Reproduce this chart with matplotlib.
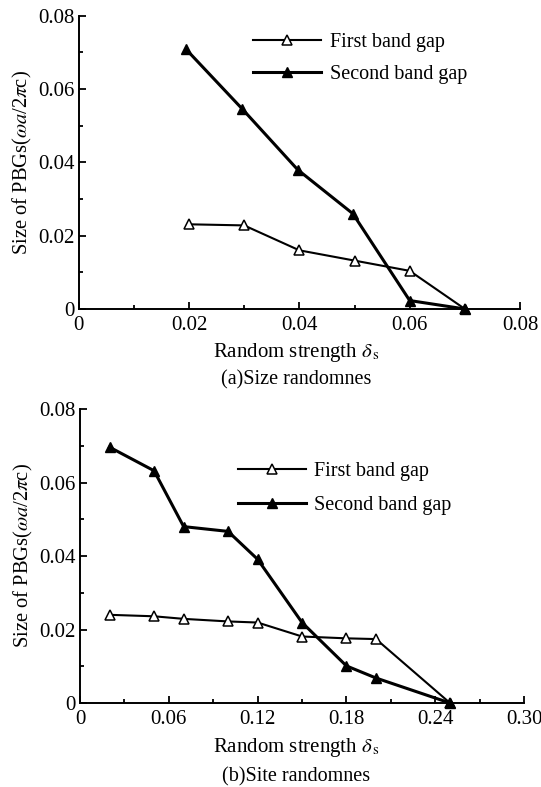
import matplotlib
matplotlib.use("Agg")
import matplotlib.pyplot as plt
from matplotlib.ticker import MultipleLocator

plt.rcParams['font.family'] = ['Liberation Serif', 'DejaVu Serif']
plt.rcParams['mathtext.fontset'] = 'stix'

# (a) size randomness
size_x = [0.02, 0.03, 0.04, 0.05, 0.06, 0.07]
size_first = [0.0231, 0.0228, 0.0160, 0.0132, 0.0104, 0.0]
size_x2 = [0.0195, 0.0297, 0.0397, 0.0497, 0.06, 0.07]
size_second = [0.0708, 0.0545, 0.0380, 0.0260, 0.0023, 0.0]

# (b) site randomness
site_x = [0.02, 0.05, 0.07, 0.10, 0.12, 0.15, 0.18, 0.20, 0.25]
site_first = [0.0240, 0.0236, 0.0229, 0.0222, 0.0219, 0.0181, 0.0176, 0.0174, 0.0]
site_second = [0.0696, 0.0632, 0.0480, 0.0467, 0.0391, 0.0219, 0.0101, 0.0068, 0.0]

ylabel = r"Size of PBGs($\omega a$/2$\pi$c)"
xlabel = r"Random strength $\delta_{\,\mathrm{s}}$"

fig = plt.figure(figsize=(5.41, 7.87), dpi=100)
ax1 = fig.add_axes([0.1453, 0.6074, 0.816, 0.3726])
ax2 = fig.add_axes([0.148, 0.1067, 0.8206, 0.3736])


def style(ax, xmax, xmajor, xminor):
    for s in ['top', 'right']:
        ax.spines[s].set_visible(False)
    for s in ['left', 'bottom']:
        ax.spines[s].set_linewidth(1.4)
    ax.set_xlim(0, xmax)
    ax.set_ylim(0, 0.08)
    ax.xaxis.set_major_locator(MultipleLocator(xmajor))
    ax.xaxis.set_minor_locator(MultipleLocator(xminor))
    ax.yaxis.set_major_locator(MultipleLocator(0.02))
    ax.yaxis.set_minor_locator(MultipleLocator(0.01))
    ax.tick_params(which='both', direction='in', top=False, right=False,
                   labelsize=15, width=1.3)
    ax.tick_params(which='major', length=5)
    ax.tick_params(which='minor', length=3)
    ax.tick_params(axis='x', pad=5)
    ax.tick_params(axis='y', pad=3)
    ax.set_ylabel(ylabel, fontsize=14.8, labelpad=3)


def fmt_tick(v, pos):
    return '0' if v == 0 else '%.2f' % v


style(ax1, 0.08, 0.02, 0.01)
style(ax2, 0.30, 0.06, 0.03)
for ax in (ax1, ax2):
    ax.xaxis.set_major_formatter(plt.FuncFormatter(fmt_tick))
    ax.yaxis.set_major_formatter(plt.FuncFormatter(fmt_tick))

ax1.plot(size_x, size_first, color='black', lw=1.5, marker='^', ms=7,
         mfc='white', mec='black', mew=1.1, label='First band gap', clip_on=False)
ax1.plot(size_x2, size_second, color='black', lw=2.2, marker='^', ms=7.5,
         mfc='black', mec='black', label='Second band gap', clip_on=False)

ax2.plot(site_x, site_first, color='black', lw=1.5, marker='^', ms=7,
         mfc='white', mec='black', mew=1.1, label='First band gap', clip_on=False)
ax2.plot(site_x, site_second, color='black', lw=2.2, marker='^', ms=7.5,
         mfc='black', mec='black', label='Second band gap', clip_on=False)

leg_kw = dict(frameon=False, fontsize=14.5, handlelength=3.4, handletextpad=0.4,
              borderpad=0, borderaxespad=0, loc='upper left')
ax1.legend(bbox_to_anchor=(0.395, 0.94), labelspacing=0.6, **leg_kw)
ax2.legend(bbox_to_anchor=(0.355, 0.82), labelspacing=0.75, **leg_kw)

fig.text(0.548, 0.5527, xlabel, ha='center', va='center', fontsize=15)
fig.text(0.548, 0.517, "(a)Size randomnes", ha='center', va='center', fontsize=14.5)
fig.text(0.548, 0.0496, xlabel, ha='center', va='center', fontsize=15)
fig.text(0.548, 0.0135, "(b)Site randomnes", ha='center', va='center', fontsize=14.5)

fig.savefig("out.png", dpi=100)
